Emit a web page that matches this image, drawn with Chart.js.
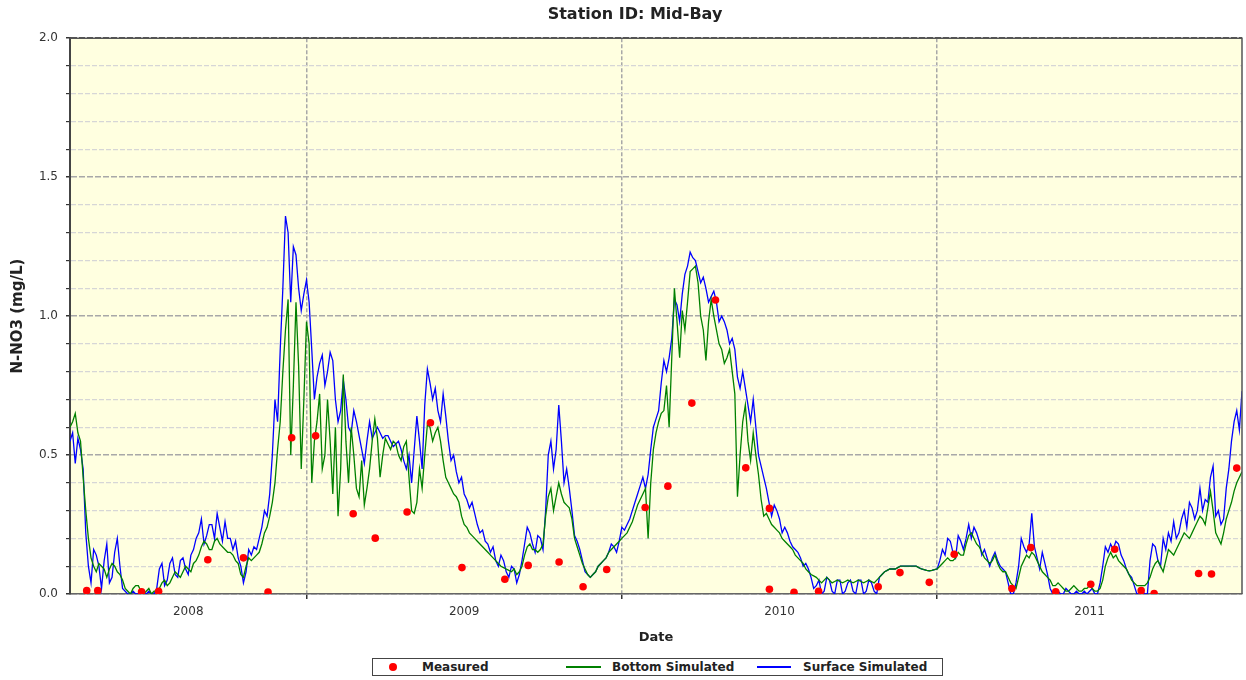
<!DOCTYPE html>
<html>
<head>
<meta charset="utf-8">
<title>Station ID: Mid-Bay</title>
<script src="https://cdn.jsdelivr.net/npm/chart.js@4/dist/chart.umd.min.js"></script>
<style>
    body { margin: 0; background: #fff; }
    #wrap { position: relative; width: 1246px; height: 680px; }
    #legend {
        position: absolute; left: 372px; top: 658px; width: 569px; height: 16px;
        border: 1px solid #444; background: #fff;
        font: bold 12px "DejaVu Sans", Verdana, sans-serif; color: #222; line-height: 16px;
    }
    #legend span { position: absolute; }
</style>
</head>
<body>
<div id="wrap">
    <canvas id="nitrateChart" width="1246" height="680"></canvas>
    <div id="legend"></div>
</div>
<script>
// year boundaries on the x axis and the labels written between them
const yearBounds = [2009, 2010, 2011];
const yearLabels = ["2008", "2009", "2010", "2011"];

// measured samples (decimal year, mg/L)
const measuredDates = [
    2008.303, 2008.338, 2008.477, 2008.531, 2008.687, 2008.800, 2008.878, 2008.953,
    2009.029, 2009.148, 2009.218, 2009.319, 2009.393, 2009.493, 2009.629, 2009.703,
    2009.801, 2009.877, 2009.952, 2010.074, 2010.146, 2010.222, 2010.297, 2010.393,
    2010.468, 2010.468, 2010.546, 2010.624, 2010.813, 2010.882, 2010.975, 2011.054,
    2011.237, 2011.297, 2011.376, 2011.487, 2011.563, 2011.647, 2011.688, 2011.829,
    2011.870, 2011.950
];
const measuredValues = [
    0.012, 0.012, 0.008, 0.010, 0.123, 0.130, 0.007, 0.562,
    0.569, 0.289, 0.201, 0.295, 0.616, 0.095, 0.053, 0.103,
    0.115, 0.026, 0.088, 0.311, 0.388, 0.687, 1.058, 0.454,
    0.308, 0.017, 0.006, 0.010, 0.026, 0.077, 0.042, 0.143,
    0.020, 0.167, 0.008, 0.035, 0.161, 0.012, 0.002, 0.074,
    0.072, 0.453
];

// simulated series, one value every 1/120 year from 2008.25
const simStart = 2008.25;
const simStep = 1 / 120;
const surfaceSim = [
    .55,.58, .47,.56, .52,.45, .22,.10, .04,.16, .14,.10, .02,.12, .18,.04, .06,.15, .20,.10,
    .02,.01, 0,0, .01,0, 0,.01, 0,0, .01,0, 0,.02, .09,.11, .03,.05, .11,.13,
    .07,.06, .12,.13, .09,.07, .14,.16, .20,.22, .27,.18, .21,.25, .25,.20, .29,.24, .19,.26,
    .20,.20, .16,.19, .13,.10, .04,.08, .16,.14, .17,.16, .20,.24, .30,.28, .36,.50, .70,.62,
    .88,1.10, 1.36,1.30, 1.05,1.25, 1.22,1.10, 1.02,1.08, 1.13,1.05, .88,.70, .78,.83, .86,.75, .80,.87,
    .84,.70, .62,.66, .77,.70, .60,.58, .66,.62, .57,.52, .47,.55, .62,.56, .58,.60, .58,.56,
    .57,.57, .55,.53, .54,.55, .52,.48, .45,.50, .40,.52, .64,.55, .45,.68, .81,.76, .70,.74,
    .66,.62, .72,.64, .55,.48, .50,.44, .40,.42, .36,.34, .31,.33, .29,.25, .22,.23, .19,.18,
    .15,.17, .12,.10, .14,.12, .08,.06, .10,.09, .04,.07, .12,.18, .24,.22, .18,.15, .21,.20,
    .16,.30, .50,.55, .45,.52, .68,.55, .40,.45, .38,.30, .21,.19, .16,.12, .08,.07, .06,.07,
    .08,.10, .11,.12, .13,.15, .18,.17, .15,.19, .24,.23, .25,.27, .30,.33, .36,.39, .42,.38,
    .43,.52, .60,.63, .66,.76, .84,.80, .85,.92, 1.06,1.04, .98,1.08, 1.15,1.18, 1.23,1.21, 1.20,1.16,
    1.12,1.14, 1.10,1.05, 1.07,1.09, 1.05,.98, 1.00,.98, .95,.90, .92,.88, .78,.74, .80,.74, .68,.62,
    .70,.60, .50,.46, .42,.38, .33,.28, .32,.30, .27,.22, .24,.22, .19,.17, .16,.15, .13,.10,
    .11,.09, .06,.02, .03,.05, 0,.01, .06,.05, .01,0, .05,.05, 0,.01, .04,.05, .01,0,
    .05,.05, 0,.01, .05,.04, .01,0, .06,.07, .08,.085, .09,.09, .09,.095, .10,.10, .10,.10,
    .10,.10, .10,.095, .09,.088, .085,.083, .085,.088, .09,.12, .16,.14, .20,.19, .15,.13, .21,.19,
    .16,.20, .25,.20, .24,.22, .19,.14, .16,.13, .10,.13, .15,.12, .10,.09, .08,.04, 0,0,
    .04,.10, .20,.17, .15,.18, .29,.17, .13,.09, .15,.11, .07,.02, 0,0, .01,0, 0,.02,
    .01,0, 0,.01, 0,0, .01,0, .01,.02, 0,0, .04,.10, .17,.15, .18,.16, .19,.18,
    .14,.12, .09,.07, .06,.03, 0,0, .01,0, 0,.12, .18,.17, .12,.10, .20,.16, .22,.19,
    .26,.20, .22,.27, .30,.24, .33,.31, .27,.30, .38,.30, .34,.33, .42,.46, .28,.30, .25,.27,
    .38,.45, .55,.62, .66,.59, .73
];
const bottomSim = [
    .60,.62, .65,.58, .55,.42, .30,.20, .13,.10, .08,.11, .10,.09, .06,.09, .11,.10, .08,.07,
    .05,.02, .01,0, .02,.03, .03,.01, 0,.01, .02,0, .01,.01, .02,.04, .05,.03, .04,.06,
    .08,.07, .06,.08, .10,.09, .08,.11, .12,.14, .17,.19, .18,.16, .16,.19, .20,.18, .17,.16,
    .15,.15, .14,.12, .11,.07, .06,.10, .13,.12, .13,.14, .15,.18, .22,.24, .28,.33, .40,.52,
    .62,.80, .95,1.06, .50,.75, 1.05,.82, .45,.70, .98,.90, .40,.55, .62,.72, .45,.50, .70,.55,
    .36,.60, .28,.45, .79,.55, .40,.60, .50,.38, .35,.48, .32,.38, .45,.55, .63,.56, .42,.50,
    .56,.54, .52,.55, .54,.50, .48,.53, .55,.42, .30,.29, .33,.45, .38,.50, .61,.60, .55,.58,
    .60,.55, .48,.42, .40,.38, .36,.35, .33,.28, .25,.24, .22,.21, .20,.19, .18,.17, .16,.15,
    .14,.13, .12,.11, .10,.095, .09,.085, .08,.09, .07,.08, .10,.14, .17,.18, .16,.16, .15,.16,
    .18,.28, .35,.38, .30,.35, .40,.36, .33,.32, .31,.27, .20,.17, .14,.11, .09,.07, .06,.07,
    .08,.10, .11,.12, .13,.15, .16,.17, .18,.19, .20,.21, .22,.24, .26,.29, .32,.34, .36,.38,
    .20,.40, .52,.58, .62,.65, .66,.75, .60,.85, 1.10,.98, .85,1.02, .95,1.05, 1.16,1.17, 1.18,1.12,
    1.00,.95, .84,.98, 1.06,1.00, .95,.90, .88,.83, .85,.88, .80,.72, .35,.50, .62,.68, .55,.48,
    .58,.50, .43,.34, .28,.29, .27,.25, .24,.23, .22,.20, .19,.18, .17,.16, .14,.13, .12,.11,
    .09,.08, .07,.065, .06,.05, .04,.05, .06,.05, .04,.045, .05,.045, .04,.045, .05,.045, .04,.045,
    .05,.045, .04,.045, .05,.045, .04,.05, .06,.07, .08,.085, .09,.09, .09,.095, .10,.10, .10,.10,
    .10,.10, .10,.095, .09,.088, .085,.083, .085,.088, .09,.10, .11,.12, .13,.12, .12,.13, .15,.14,
    .14,.18, .21,.22, .20,.18, .17,.15, .13,.12, .11,.12, .14,.11, .09,.08, .08,.06, .04,.03,
    .02,.06, .10,.12, .14,.13, .15,.14, .12,.10, .08,.07, .06,.05, .03,.03, .04,.03, .02,.01,
    .01,.02, .03,.02, .01,.01, .02,.02, .03,.02, .01,.01, .02,.05, .10,.13, .15,.13, .14,.12,
    .11,.10, .09,.07, .05,.04, .03,.03, .03,.03, .04,.06, .09,.11, .12,.10, .08,.12, .16,.15,
    .14,.16, .18,.20, .22,.21, .20,.22, .24,.26, .28,.27, .25,.31, .37,.30, .22,.20, .18,.22,
    .27,.30, .33,.37, .40,.42, .44
];

const simDates = surfaceSim.map((_, i) => simStart + i * simStep);
const xMin = simDates[0];
const xMax = simDates[simDates.length - 1];

// label ticks sit halfway between the boundaries
const edges = [xMin, ...yearBounds, xMax];
const labelTicks = yearLabels.map((t, i) => ({ value: (edges[i] + edges[i + 1]) / 2, text: t }));
const xTicks = [...labelTicks.map(t => t.value), ...yearBounds].sort((a, b) => a - b);

function isBound(v) {
    return yearBounds.some(b => Math.abs(b - v) < 1e-6);
}
function isMajor(v) {
    return Math.abs(v * 2 - Math.round(v * 2)) < 1e-6;
}

const fontFamily = '"DejaVu Sans", Verdana, sans-serif';

// legend slot offsets inside the legend box
const legendSlots = [
    { markX: 16, markW: 8, textX: 49 },
    { markX: 193, markW: 35, textX: 239 },
    { markX: 384, markW: 34, textX: 430 }
];

const plotFrame = {
    id: "plotFrame",
    beforeDraw(chart) {
        const { ctx, chartArea: a } = chart;
        ctx.save();
        ctx.fillStyle = "#ffffe0";
        ctx.fillRect(a.left, a.top, a.right - a.left, a.bottom - a.top);
        ctx.restore();
    },
    afterDatasetsDraw(chart) {
        const { ctx, chartArea: a } = chart;
        ctx.save();
        ctx.strokeStyle = "#555";
        ctx.lineWidth = 1.5;
        ctx.beginPath();
        ctx.moveTo(a.left, a.top);
        ctx.lineTo(a.right, a.top);
        ctx.lineTo(a.right, a.bottom);
        ctx.stroke();
        ctx.restore();
    }
};

const htmlLegend = {
    id: "htmlLegend",
    afterUpdate(chart) {
        const box = document.getElementById("legend");
        box.innerHTML = "";
        chart.data.datasets.forEach((ds, i) => {
            const slot = legendSlots[i];
            const mark = document.createElement("span");
            mark.style.left = slot.markX + "px";
            mark.style.width = slot.markW + "px";
            if (ds.showLine === false) {
                mark.style.top = "4px";
                mark.style.height = slot.markW + "px";
                mark.style.borderRadius = "50%";
                mark.style.backgroundColor = ds.backgroundColor;
            } else {
                mark.style.top = "7px";
                mark.style.height = "2px";
                mark.style.backgroundColor = ds.borderColor;
            }
            const txt = document.createElement("span");
            txt.style.left = slot.textX + "px";
            txt.textContent = ds.label;
            box.appendChild(mark);
            box.appendChild(txt);
        });
    }
};

new Chart(document.getElementById("nitrateChart"), {
    type: "line",
    data: {
        datasets: [{
            label: "Measured",
            data: measuredDates.map((d, i) => ({ x: d, y: measuredValues[i] })),
            showLine: false,
            pointRadius: 3.8,
            pointBorderWidth: 0,
            backgroundColor: "#ff0000",
            borderColor: "#ff0000"
        }, {
            label: "Bottom Simulated",
            data: simDates.map((d, i) => ({ x: d, y: bottomSim[i] })),
            borderColor: "#008000",
            backgroundColor: "#008000",
            borderWidth: 1.3,
            pointRadius: 0
        }, {
            label: "Surface Simulated",
            data: simDates.map((d, i) => ({ x: d, y: surfaceSim[i] })),
            borderColor: "#0000ff",
            backgroundColor: "#0000ff",
            borderWidth: 1.3,
            pointRadius: 0
        }]
    },
    options: {
        responsive: false,
        animation: false,
        devicePixelRatio: 1,
        layout: { padding: { left: 26, right: 2, top: 0, bottom: 30 } },
        plugins: {
            legend: { display: false },
            tooltip: { enabled: false },
            title: {
                display: true,
                text: "Station ID: Mid-Bay",
                color: "#222",
                font: { family: fontFamily, size: 16, weight: "bold" },
                padding: { top: 5, bottom: 14 }
            }
        },
        scales: {
            x: {
                type: "linear",
                min: xMin,
                max: xMax,
                afterBuildTicks: s => { s.ticks = xTicks.map(v => ({ value: v })); },
                afterFit: s => { s.height = 56; },
                ticks: {
                    autoSkip: false,
                    maxRotation: 0,
                    padding: 6,
                    color: "#333",
                    font: { family: fontFamily, size: 12 },
                    callback: v => {
                        const t = labelTicks.find(l => Math.abs(l.value - v) < 1e-6);
                        return t ? t.text : "";
                    }
                },
                grid: {
                    color: c => isBound(c.tick.value) ? "#a8a8a8" : "rgba(0,0,0,0)",
                    tickColor: c => isBound(c.tick.value) ? "#333" : "rgba(0,0,0,0)",
                    tickLength: 5,
                    lineWidth: 1.5
                },
                border: { color: "#666", width: 1.5, dash: [4, 2] },
                title: {
                    display: true,
                    text: "Date",
                    color: "#222",
                    font: { family: fontFamily, size: 13, weight: "bold" },
                    padding: { top: 0, bottom: 5 }
                }
            },
            y: {
                min: 0,
                max: 2,
                afterFit: s => { s.width = 44; },
                ticks: {
                    stepSize: 0.1,
                    autoSkip: false,
                    padding: 8,
                    color: "#333",
                    font: { family: fontFamily, size: 12 },
                    callback: v => isMajor(v) ? Number(v).toFixed(1) : ""
                },
                grid: {
                    color: c => {
                        const v = c.tick.value;
                        if (Math.abs(v - 2) < 1e-6) return "#555";
                        return isMajor(v) ? "#a8a8a8" : "#d6d6d6";
                    },
                    lineWidth: c => isMajor(c.tick.value) ? 1.5 : 1.2,
                    tickColor: "#333",
                    tickLength: 4
                },
                border: {
                    color: "#444",
                    width: 2,
                    dash: c => (c.tick && isMajor(c.tick.value)) ? [6, 2] : [5, 2]
                },
                title: {
                    display: true,
                    text: "N-NO3 (mg/L)",
                    color: "#222",
                    font: { family: fontFamily, size: 15, weight: "bold" },
                    padding: { top: -17, bottom: 0 }
                }
            }
        }
    },
    plugins: [plotFrame, htmlLegend]
});
</script>
</body>
</html>
